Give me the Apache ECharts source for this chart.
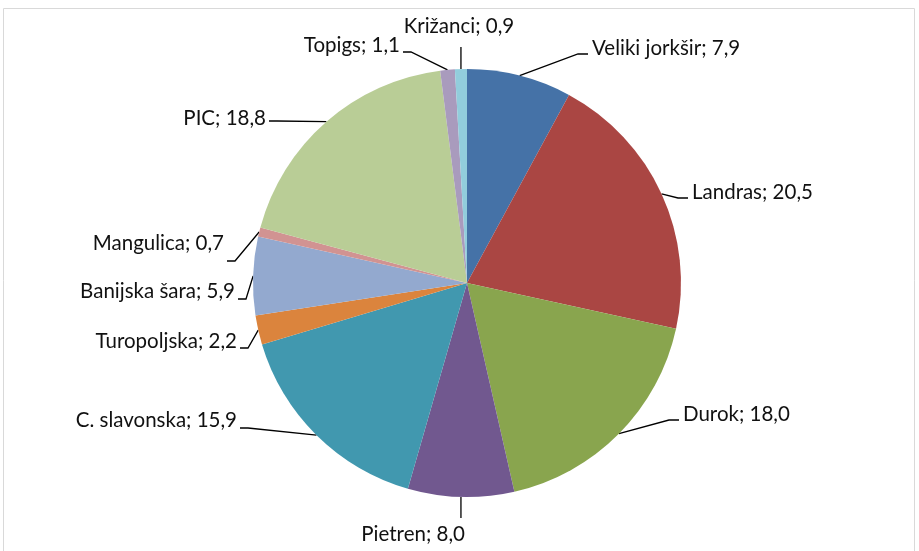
<!DOCTYPE html>
<html>
<head>
<meta charset="utf-8">
<script src="https://cdn.jsdelivr.net/npm/echarts@6/dist/echarts.min.js"></script>
<style>
  html, body { margin: 0; padding: 0; background: #fff; }
  #chart { width: 919px; height: 551px; }
</style>
</head>
<body>
<div id="chart"></div>
<script>
// pasmine, udio u %
var breeds = ["Veliki jorkšir", "Landras", "Durok", "Pietren", "C. slavonska",
  "Turopoljska", "Banijska šara", "Mangulica", "PIC", "Topigs", "Križanci"];
var shares = [7.9, 20.5, 18.0, 8.0, 15.9, 2.2, 5.9, 0.7, 18.8, 1.1, 0.9];
var colors = ["#4572A7", "#AA4643", "#89A54E", "#71588F", "#4198AF",
  "#DB843D", "#93A9CF", "#D19392", "#B9CD96", "#A99BBD", "#92CDDC"];

// gdje stoje natpisi (kraj linije x,y i sredina teksta ty), kao u Excelu
var labelSpots = [
  { side: "right", x: 588, y: 54, ty: 48 },
  { side: "right", x: 688, y: 198, ty: 192 },
  { side: "right", x: 679, y: 420, ty: 414 },
  { side: "bottom", y: 518, ty: 534 },
  { side: "left", x: 240, y: 428, ty: 420 },
  { side: "left", x: 240, y: 348, ty: 341 },
  { side: "left", x: 238, y: 299, ty: 291 },
  { side: "left", x: 227, y: 261, ty: 243 },
  { side: "left", x: 269, y: 121, ty: 118 },
  { side: "left", x: 403, y: 52, ty: 45 },
  { side: "top", y: 47, ty: 26 }
];

var cx = 467, cy = 283, R = 214;
var total = shares.reduce(function (a, b) { return a + b; }, 0);

// tocka na rubu kriske (sredina luka)
function edgePoint(i) {
  var before = 0;
  for (var k = 0; k < i; k++) before += shares[k];
  var a = (before + shares[i] / 2) / total * Math.PI * 2;
  return [cx + R * Math.sin(a), cy - R * Math.cos(a)];
}

var myChart = echarts.init(document.getElementById("chart"));

var option = {
  animation: false,
  color: colors,
  graphic: [
    {
      type: "rect",
      shape: { x: 3.5, y: 8.5, width: 911, height: 560 },
      style: { fill: null, stroke: "#d9d9d9", lineWidth: 1 },
      silent: true
    }
  ],
  series: [
    {
      type: "pie",
      center: [cx, cy],
      radius: [0, R],
      startAngle: 90,
      clockwise: true,
      avoidLabelOverlap: false,
      label: {
        show: true,
        position: "outside",
        color: "#111",
        fontFamily: "Lato",
        fontSize: 20.5,
        formatter: function (p) {
          return p.name + "; " + p.value.toFixed(1).replace(".", ",");
        }
      },
      labelLine: {
        show: true,
        lineStyle: { color: "#000", width: 1.3 }
      },
      labelLayout: function (params) {
        var i = params.dataIndex;
        var s = labelSpots[i];
        var p0 = edgePoint(i);
        if (s.side === "right") {
          return {
            x: s.x + 4, y: s.ty, align: "left", verticalAlign: "middle",
            labelLinePoints: [p0, [s.x - 10, s.y], [s.x, s.y]]
          };
        }
        if (s.side === "left") {
          return {
            x: s.x - 3, y: s.ty, align: "right", verticalAlign: "middle",
            labelLinePoints: [p0, [s.x + 8, s.y], [s.x, s.y]]
          };
        }
        if (s.side === "bottom") {
          return {
            x: p0[0] + 4, y: s.ty, align: "right", verticalAlign: "middle",
            labelLinePoints: [p0, [p0[0], s.y], [p0[0], s.y]]
          };
        }
        return {
          x: p0[0] - 2, y: s.ty, align: "center", verticalAlign: "middle",
          labelLinePoints: [p0, [p0[0], s.y], [p0[0], s.y]]
        };
      },
      itemStyle: { borderWidth: 0 },
      emphasis: { disabled: true },
      data: breeds.map(function (b, i) {
        return { name: b, value: shares[i] };
      })
    }
  ]
};

myChart.setOption(option);
</script>
</body>
</html>
